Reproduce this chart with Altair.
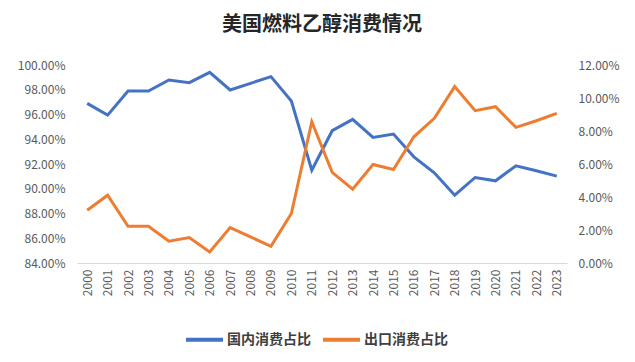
import altair as alt
import pandas as pd

years = [str(y) for y in range(2000, 2024)]
domestic = [96.90, 95.95, 97.90, 97.90, 98.79, 98.57, 99.41, 97.98, 98.52, 99.06, 97.09, 91.50,
            94.69, 95.61, 94.15, 94.42, 92.58, 91.29, 89.48, 90.91, 90.64, 91.85, 91.45, 91.02]
export = [3.20, 4.11, 2.23, 2.23, 1.32, 1.54, 0.67, 2.15, 1.58, 1.01, 3.00, 8.56,
          5.49, 4.47, 5.97, 5.67, 7.65, 8.77, 10.69, 9.23, 9.47, 8.22, 8.62, 9.07]
series_names = ["国内消费占比", "出口消费占比"]
colors = ["#4472C4", "#ED7D31"]

df = pd.concat([
    pd.DataFrame({"year": years, "value": domestic, "series": series_names[0]}),
    pd.DataFrame({"year": years, "value": export, "series": series_names[1]}),
])

FONT = "Noto Sans CJK SC"
LABEL_COLOR = "#595959"

color = alt.Color(
    "series:N",
    scale=alt.Scale(domain=series_names, range=colors),
    legend=alt.Legend(
        title=None, orient="none", direction="horizontal",
        legendX=107, legendY=254,
        symbolType="stroke", symbolSize=1369, symbolStrokeWidth=4,
        labelFont=FONT, labelFontSize=14, labelFontWeight="bold", labelColor="#404040",
        labelOffset=2, columnPadding=4,
    ),
)

base = alt.Chart(df).encode(
    x=alt.X("year:N", sort=years, title=None,
            axis=alt.Axis(labelAngle=270, labelFont=FONT, labelFontSize=12, labelColor=LABEL_COLOR,
                          ticks=False, domainColor="#D9D9D9", labelPadding=6, grid=False)),
    color=color,
)

fmt = "format(datum.value, '.2f') + '%'"

left = base.transform_filter(alt.datum.series == series_names[0]).mark_line(strokeWidth=3).encode(
    y=alt.Y("value:Q", title=None,
            scale=alt.Scale(domain=[84, 100], nice=False, zero=False),
            axis=alt.Axis(orient="left", values=list(range(84, 101, 2)), labelExpr=fmt,
                          labelFont=FONT, labelFontSize=12, labelColor=LABEL_COLOR,
                          domain=False, ticks=False, grid=False, labelPadding=12)),
)

right = base.transform_filter(alt.datum.series == series_names[1]).mark_line(strokeWidth=3).encode(
    y=alt.Y("value:Q", title=None,
            scale=alt.Scale(domain=[0, 12], nice=False),
            axis=alt.Axis(orient="right", values=list(range(0, 13, 2)), labelExpr=fmt,
                          labelFont=FONT, labelFontSize=12, labelColor=LABEL_COLOR,
                          domain=False, ticks=False, grid=False, labelPadding=11)),
)

chart = alt.layer(left, right).resolve_scale(y="independent").properties(
    width=490, height=198,
    title=alt.TitleParams("美国燃料乙醇消费情况", font=FONT, fontSize=20, fontWeight="bold",
                          color="#262626", anchor="middle", offset=24),
    autosize=alt.AutoSizeParams(type="none"),
    padding={"left": 69, "top": 57, "right": 60, "bottom": 91},
).configure_view(stroke=None)

chart.save("out.html", embed_options={"renderer": "svg", "actions": False})
